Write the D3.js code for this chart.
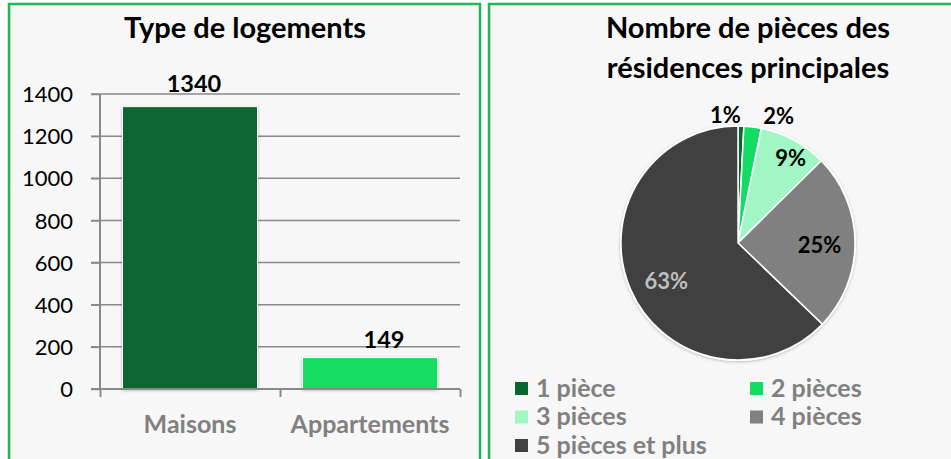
<!DOCTYPE html>
<html>
<head>
<meta charset="utf-8">
<script src="https://cdn.jsdelivr.net/npm/d3@7"></script>
<style>
  body { margin: 0; background: #fff; }
  svg { display: block; font-family: Lato, "Open Sans", sans-serif; }
</style>
</head>
<body>
<svg id="chart" width="951" height="459"></svg>
<script>
// bar chart data
var barCats = ["Maisons", "Appartements"];
var barVals = [1340, 149];
var barColors = ["#0a6631", "#12dd62"];
var yTicks = [0, 200, 400, 600, 800, 1000, 1200, 1400];

// pie chart data (shares in %)
var pieCats = ["1 pièce", "2 pièces", "3 pièces", "4 pièces", "5 pièces et plus"];
var pieVals = [0.8, 2.4, 9.4, 24.6, 62.8];
var pieColors = ["#0a6631", "#12dd62", "#a0f7c3", "#808080", "#404040"];

var svg = d3.select("#chart");
var green = "#1cb955";

// shadow filter
var defs = svg.append("defs");
var f = defs.append("filter").attr("id", "shadow").attr("x", "-10%").attr("y", "-10%").attr("width", "120%").attr("height", "120%");
f.append("feDropShadow").attr("dx", 0).attr("dy", 1).attr("stdDeviation", 1.5).attr("flood-color", "#000").attr("flood-opacity", 0.25);

// panels
svg.append("rect").attr("x", 9).attr("y", 4).attr("width", 471).attr("height", 470)
  .attr("fill", "#f7f7f7").attr("stroke", green).attr("stroke-width", 2.5);
svg.append("rect").attr("x", 489).attr("y", 4).attr("width", 480).attr("height", 470)
  .attr("fill", "#f7f7f7").attr("stroke", green).attr("stroke-width", 2.5);

// ---------- bar chart ----------
var y = d3.scaleLinear().domain([0, 1400]).range([389, 94]);
var x = d3.scaleBand().domain(barCats).range([100, 460]).paddingInner(0.25).paddingOuter(0.125);

var g1 = svg.append("g");

g1.append("text").attr("x", 245).attr("y", 38).attr("text-anchor", "middle")
  .attr("font-size", 29).attr("font-weight", "bold").attr("fill", "#000")
  .text("Type de logements");

// gridlines
g1.append("g").selectAll("line").data(yTicks.slice(1)).enter().append("line")
  .attr("x1", 91).attr("x2", 460)
  .attr("y1", function(d) { return y(d); }).attr("y2", function(d) { return y(d); })
  .attr("stroke", "#898989").attr("stroke-width", 1.5);

// y axis
var yAxis = d3.axisLeft(y).tickValues(yTicks).tickFormat(d3.format("d")).tickSize(9).tickPadding(18);
var ya = g1.append("g").attr("transform", "translate(100,0)").call(yAxis);
ya.select(".domain").attr("stroke", "#898989").attr("stroke-width", 2).attr("d", "M0,94V389");
ya.selectAll(".tick line").attr("stroke", "#898989").attr("stroke-width", 1.5);
ya.selectAll(".tick text").attr("font-size", 22).attr("font-family", "Lato, sans-serif").attr("fill", "#000").attr("dy", "0.35em");

// bars
g1.append("g").selectAll("rect").data(barVals).enter().append("rect")
  .attr("x", function(d, i) { return x(barCats[i]); })
  .attr("y", function(d) { return y(d); })
  .attr("width", x.bandwidth())
  .attr("height", function(d) { return y(0) - y(d); })
  .attr("fill", function(d, i) { return barColors[i]; })
  .attr("stroke", "#fff").attr("stroke-width", 1)
  .attr("filter", "url(#shadow)");

// x axis
var xAxis = d3.axisBottom(d3.scaleLinear().domain([0, 2]).range([100, 460])).ticks(2).tickSize(8).tickFormat("");
var xa = g1.append("g").attr("transform", "translate(0,389)").call(xAxis);
xa.select(".domain").attr("stroke", "#898989").attr("stroke-width", 2).attr("d", "M91,0H460");
xa.selectAll(".tick line").attr("stroke", "#898989").attr("stroke-width", 2);

g1.append("g").selectAll("text").data(barCats).enter().append("text")
  .attr("x", function(d) { return x(d) + x.bandwidth() / 2; })
  .attr("y", 433).attr("text-anchor", "middle")
  .attr("font-size", 25).attr("font-weight", "bold").attr("fill", "#808080")
  .text(function(d) { return d; });

// value labels
var valShift = [[4, -15], [14, -10]];
g1.append("g").selectAll("text").data(barVals).enter().append("text")
  .attr("x", function(d, i) { return x(barCats[i]) + x.bandwidth() / 2 + valShift[i][0]; })
  .attr("y", function(d, i) { return y(d) + valShift[i][1]; })
  .attr("text-anchor", "middle")
  .attr("font-size", 23.5).attr("font-weight", "bold").attr("fill", "#000")
  .text(function(d) { return d; });

// ---------- pie chart ----------
var cx = 738, cy = 243, r = 117;
var g2 = svg.append("g");

g2.append("text").attr("x", 748).attr("y", 38).attr("text-anchor", "middle")
  .attr("font-size", 29).attr("font-weight", "bold").attr("fill", "#000")
  .text("Nombre de pièces des");
g2.append("text").attr("x", 748).attr("y", 78).attr("text-anchor", "middle")
  .attr("font-size", 29).attr("font-weight", "bold").attr("fill", "#000")
  .text("résidences principales");

var pie = d3.pie().sort(null).value(function(d) { return d; });
var arcs = pie(pieVals);
var arc = d3.arc().innerRadius(0).outerRadius(r);

var pg = g2.append("g").attr("transform", "translate(" + cx + "," + cy + ")");
pg.append("circle").attr("r", r + 1).attr("fill", "#fff").attr("filter", "url(#shadow)");
pg.selectAll("path").data(arcs).enter().append("path")
  .attr("d", arc)
  .attr("fill", function(d, i) { return pieColors[i]; })
  .attr("stroke", "#fff").attr("stroke-width", 1.5);

// label positions as offsets from arc centroid
var labelArc = [
  d3.arc().innerRadius(r + 16).outerRadius(r + 16),
  d3.arc().innerRadius(r + 16).outerRadius(r + 16),
  d3.arc().innerRadius(r * 0.8).outerRadius(r * 0.8),
  d3.arc().innerRadius(r * 0.8).outerRadius(r * 0.8),
  d3.arc().innerRadius(r * 0.75).outerRadius(r * 0.75)
];
var labelShift = [[-16, 5], [24, 5], [8, -2], [-12, 3], [9, 4]];
var labelColors = ["#000", "#000", "#000", "#000", "#bfbfbf"];

pg.selectAll("text").data(arcs).enter().append("text")
  .attr("x", function(d, i) { return labelArc[i].centroid(d)[0] + labelShift[i][0]; })
  .attr("y", function(d, i) { return labelArc[i].centroid(d)[1] + labelShift[i][1]; })
  .attr("dy", "0.35em").attr("text-anchor", "middle")
  .attr("font-size", 22).attr("font-weight", "bold")
  .attr("fill", function(d, i) { return labelColors[i]; })
  .text(function(d) { return Math.round(d.data) + "%"; });

// legend
var legX = [515, 750], legY0 = 389, legDy = 28.5;
var lg = g2.append("g").selectAll("g").data(pieCats).enter().append("g")
  .attr("transform", function(d, i) {
    return "translate(" + legX[i % 2] + "," + (legY0 + Math.floor(i / 2) * legDy) + ")";
  });
lg.append("rect").attr("x", 0).attr("y", -7).attr("width", 13).attr("height", 13)
  .attr("fill", function(d, i) { return pieColors[i]; });
lg.append("text").attr("x", 21).attr("y", -1).attr("dy", "0.35em")
  .attr("font-size", 25).attr("font-weight", "bold").attr("fill", "#808080")
  .text(function(d) { return d; });
</script>
</body>
</html>
